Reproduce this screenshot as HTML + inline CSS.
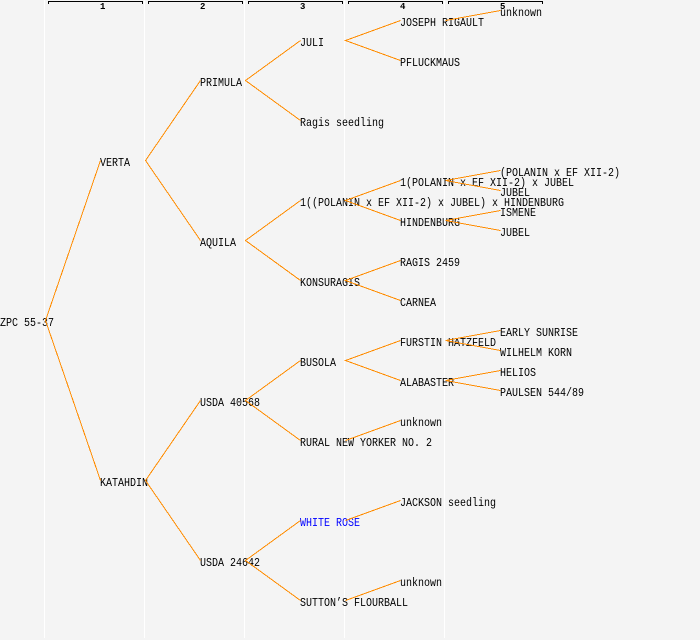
<!DOCTYPE html>
<html><head><meta charset="utf-8"><style>
html,body{margin:0;padding:0;background:#f4f4f4;}
svg{display:block;}
text{font-family:"Liberation Mono",monospace;font-size:12px;fill:#000;}
.h{font-size:9px;font-weight:bold;}
</style></head><body>
<svg width="700" height="640" viewBox="0 0 700 640" xmlns="http://www.w3.org/2000/svg">
<rect x="0" y="0" width="700" height="640" fill="#f4f4f4"/>
<g fill="#ffffff">
<rect x="44" y="0" width="1" height="638"/>
<rect x="144" y="0" width="1" height="638"/>
<rect x="244" y="0" width="1" height="638"/>
<rect x="344" y="0" width="1" height="638"/>
<rect x="444" y="0" width="1" height="638"/>
</g>
<g fill="#000">
<rect x="48" y="1" width="95" height="1"/><rect x="48" y="1" width="1" height="3"/><rect x="142" y="1" width="1" height="3"/>
<rect x="148" y="1" width="95" height="1"/><rect x="148" y="1" width="1" height="3"/><rect x="242" y="1" width="1" height="3"/>
<rect x="248" y="1" width="95" height="1"/><rect x="248" y="1" width="1" height="3"/><rect x="342" y="1" width="1" height="3"/>
<rect x="348" y="1" width="95" height="1"/><rect x="348" y="1" width="1" height="3"/><rect x="442" y="1" width="1" height="3"/>
<rect x="448" y="1" width="95" height="1"/><rect x="448" y="1" width="1" height="3"/><rect x="542" y="1" width="1" height="3"/>
</g>
<g class="hd">
<text class="h" x="100" y="9">1</text>
<text class="h" x="200" y="9">2</text>
<text class="h" x="300" y="9">3</text>
<text class="h" x="400" y="9">4</text>
<text class="h" x="500" y="9">5</text>
</g>
<g>
<text x="0" y="326" textLength="54" lengthAdjust="spacingAndGlyphs">ZPC 55-37</text>
<text x="100" y="166" textLength="30" lengthAdjust="spacingAndGlyphs">VERTA</text>
<text x="100" y="486" textLength="48" lengthAdjust="spacingAndGlyphs">KATAHDIN</text>
<text x="200" y="86" textLength="42" lengthAdjust="spacingAndGlyphs">PRIMULA</text>
<text x="200" y="246" textLength="36" lengthAdjust="spacingAndGlyphs">AQUILA</text>
<text x="200" y="406" textLength="60" lengthAdjust="spacingAndGlyphs">USDA 40568</text>
<text x="200" y="566" textLength="60" lengthAdjust="spacingAndGlyphs">USDA 24642</text>
<text x="300" y="46" textLength="24" lengthAdjust="spacingAndGlyphs">JULI</text>
<text x="300" y="126" textLength="84" lengthAdjust="spacingAndGlyphs">Ragis seedling</text>
<text x="300" y="206" textLength="264" lengthAdjust="spacingAndGlyphs">1((POLANIN x EF XII-2) x JUBEL) x HINDENBURG</text>
<text x="300" y="286" textLength="60" lengthAdjust="spacingAndGlyphs">KONSURAGIS</text>
<text x="300" y="366" textLength="36" lengthAdjust="spacingAndGlyphs">BUSOLA</text>
<text x="300" y="446" textLength="132" lengthAdjust="spacingAndGlyphs">RURAL NEW YORKER NO. 2</text>
<text x="300" y="526" textLength="60" lengthAdjust="spacingAndGlyphs" style="fill:#0000ff">WHITE ROSE</text>
<text x="300" y="606" textLength="108" lengthAdjust="spacingAndGlyphs">SUTTON’S FLOURBALL</text>
<text x="400" y="26" textLength="84" lengthAdjust="spacingAndGlyphs">JOSEPH RIGAULT</text>
<text x="400" y="66" textLength="60" lengthAdjust="spacingAndGlyphs">PFLUCKMAUS</text>
<text x="400" y="186" textLength="174" lengthAdjust="spacingAndGlyphs">1(POLANIN x EF XII-2) x JUBEL</text>
<text x="400" y="226" textLength="60" lengthAdjust="spacingAndGlyphs">HINDENBURG</text>
<text x="400" y="266" textLength="60" lengthAdjust="spacingAndGlyphs">RAGIS 2459</text>
<text x="400" y="306" textLength="36" lengthAdjust="spacingAndGlyphs">CARNEA</text>
<text x="400" y="346" textLength="96" lengthAdjust="spacingAndGlyphs">FURSTIN HATZFELD</text>
<text x="400" y="386" textLength="54" lengthAdjust="spacingAndGlyphs">ALABASTER</text>
<text x="400" y="426" textLength="42" lengthAdjust="spacingAndGlyphs">unknown</text>
<text x="400" y="506" textLength="96" lengthAdjust="spacingAndGlyphs">JACKSON seedling</text>
<text x="400" y="586" textLength="42" lengthAdjust="spacingAndGlyphs">unknown</text>
<text x="500" y="16" textLength="42" lengthAdjust="spacingAndGlyphs">unknown</text>
<text x="500" y="176" textLength="120" lengthAdjust="spacingAndGlyphs">(POLANIN x EF XII-2)</text>
<text x="500" y="196" textLength="30" lengthAdjust="spacingAndGlyphs">JUBEL</text>
<text x="500" y="216" textLength="36" lengthAdjust="spacingAndGlyphs">ISMENE</text>
<text x="500" y="236" textLength="30" lengthAdjust="spacingAndGlyphs">JUBEL</text>
<text x="500" y="336" textLength="78" lengthAdjust="spacingAndGlyphs">EARLY SUNRISE</text>
<text x="500" y="356" textLength="72" lengthAdjust="spacingAndGlyphs">WILHELM KORN</text>
<text x="500" y="376" textLength="36" lengthAdjust="spacingAndGlyphs">HELIOS</text>
<text x="500" y="396" textLength="84" lengthAdjust="spacingAndGlyphs">PAULSEN 544/89</text>
</g>
<g stroke="#ff8c00" stroke-width="1" fill="none" shape-rendering="crispEdges">
<path d="M100.5,160.5 L45.5,320.5 L100.5,480.5"/>
<path d="M200.5,80.5 L145.5,160.5 L200.5,240.5"/>
<path d="M200.5,400.5 L145.5,480.5 L200.5,560.5"/>
<path d="M300.5,40.5 L245.5,80.5 L300.5,120.5"/>
<path d="M300.5,200.5 L245.5,240.5 L300.5,280.5"/>
<path d="M300.5,360.5 L245.5,400.5 L300.5,440.5"/>
<path d="M300.5,520.5 L245.5,560.5 L300.5,600.5"/>
<path d="M400.5,20.5 L345.5,40.5 L400.5,60.5"/>
<path d="M400.5,180.5 L345.5,200.5 L400.5,220.5"/>
<path d="M400.5,260.5 L345.5,280.5 L400.5,300.5"/>
<path d="M400.5,340.5 L345.5,360.5 L400.5,380.5"/>
<path d="M345.5,440.5 L400.5,420.5"/>
<path d="M345.5,520.5 L400.5,500.5"/>
<path d="M345.5,600.5 L400.5,580.5"/>
<path d="M445.5,20.5 L500.5,10.5"/>
<path d="M500.5,170.5 L445.5,180.5 L500.5,190.5"/>
<path d="M500.5,210.5 L445.5,220.5 L500.5,230.5"/>
<path d="M500.5,330.5 L445.5,340.5 L500.5,350.5"/>
<path d="M500.5,370.5 L445.5,380.5 L500.5,390.5"/>
</g>
</svg>
</body></html>
